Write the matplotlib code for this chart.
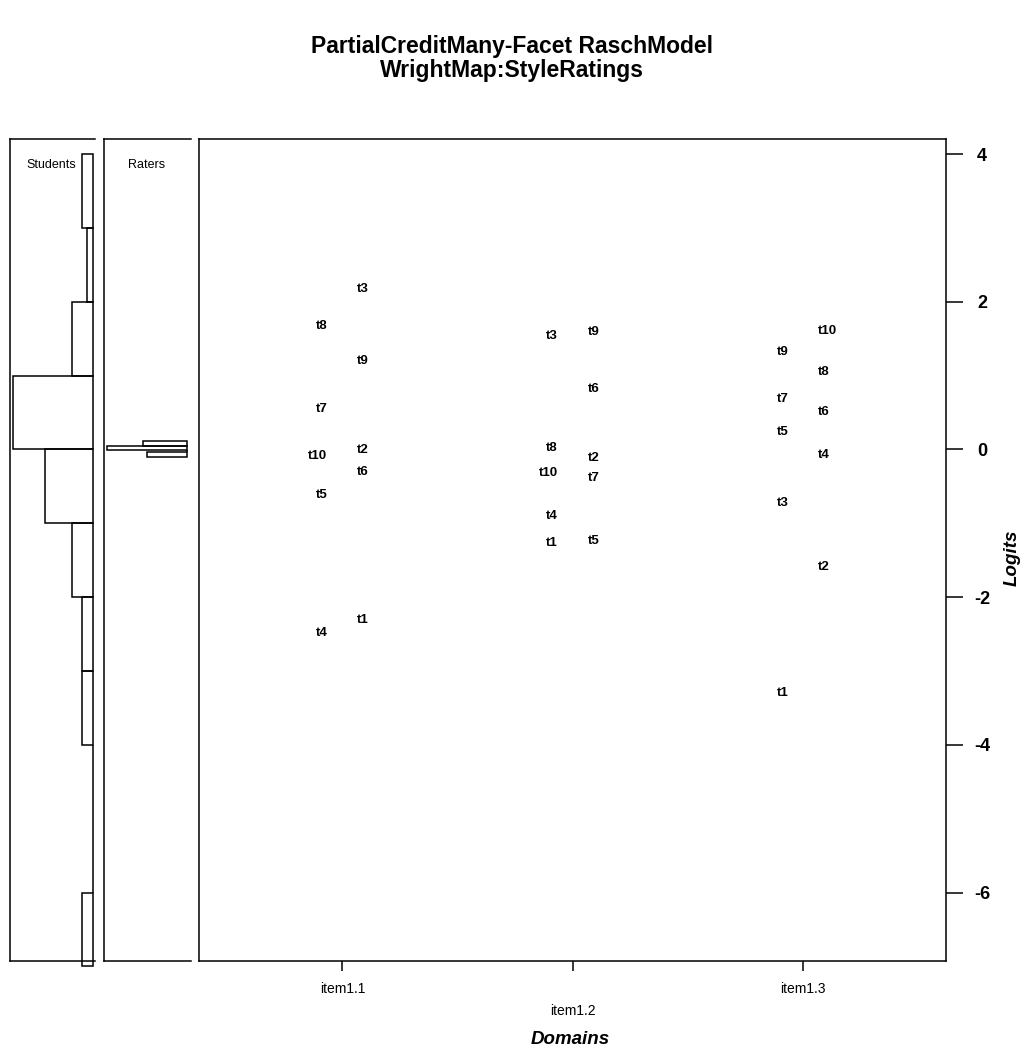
import matplotlib
matplotlib.use("Agg")
import matplotlib.pyplot as plt
import numpy as np

plt.rcParams['font.family'] = ['Liberation Sans', 'DejaVu Sans']
plt.rcParams['axes.unicode_minus'] = False

# ---------------- data ----------------
items = ["item1.1", "item1.2", "item1.3"]
thr_labels = ["t1", "t2", "t3", "t4", "t5", "t6", "t7", "t8", "t9", "t10"]
item11 = [-2.31, -0.01, 2.17, -2.48, -0.62, -0.30, 0.55, 1.67, 1.20, -0.09]
item12 = [-1.27, -0.11, 1.54, -0.90, -1.24, 0.82, -0.38, 0.02, 1.59, -0.32]
item13 = [-3.30, -1.59, -0.73, -0.08, 0.23, 0.51, 0.68, 1.05, 1.32, 1.61]

student_bin_edges = [4, 3, 2, 1, 0, -1, -2, -3, -4, -5, -6, -7]
student_counts = [2, 1, 4, 15, 9, 4, 2, 2, 0, 0, 2]
rater_bin_edges = [0.11, 0.05, -0.005, -0.035, -0.10]
rater_freq = [0.55, 1.0, 0.0, 0.5]
logit_ticks = [4, 2, 0, -2, -4, -6]

# ---------------- layout ----------------
W, H = 1024, 1052
fig = plt.figure(figsize=(W / 100, H / 100), dpi=100)


def rect(x0, x1, ytop, ybot):
    return [x0 / W, 1 - ybot / H, (x1 - x0) / W, (ybot - ytop) / H]


YLIM = (-6.926, 4.204)
LW = 1.1

# Students panel
ax_s = fig.add_axes(rect(10, 95, 139, 961))
se = np.array(student_bin_edges, dtype=float)
ax_s.barh((se[:-1] + se[1:]) / 2, student_counts, height=np.abs(np.diff(se)),
          left=0, fill=False, edgecolor='black', linewidth=LW, clip_on=False)
ax_s.set_ylim(*YLIM)
ax_s.set_xlim(15.63, -0.43)
ax_s.set_xticks([])
ax_s.set_yticks([])
ax_s.spines['right'].set_visible(False)
for sp in ['left', 'top', 'bottom']:
    ax_s.spines[sp].set_linewidth(LW)
ax_s.text(0.48, 0.968, "Students", transform=ax_s.transAxes, ha='center',
          va='center', fontsize=9)

# Raters panel
ax_r = fig.add_axes(rect(104, 191, 139, 961))
re_ = np.array(rater_bin_edges, dtype=float)
ax_r.barh((re_[:-1] + re_[1:]) / 2, rater_freq, height=np.abs(np.diff(re_)),
          left=0, fill=False, edgecolor='black', linewidth=LW)
ax_r.set_ylim(*YLIM)
ax_r.set_xlim(1.0375, -0.05)
ax_r.set_xticks([])
ax_r.set_yticks([])
ax_r.spines['right'].set_visible(False)
for sp in ['left', 'top', 'bottom']:
    ax_r.spines[sp].set_linewidth(LW)
ax_r.text(0.494, 0.968, "Raters", transform=ax_r.transAxes, ha='center',
          va='center', fontsize=9)

# Main panel
ax = fig.add_axes(rect(199, 945.7, 139, 961))
ax.set_ylim(*YLIM)
ax.set_xlim(0.378, 3.618)
for sp in ax.spines.values():
    sp.set_linewidth(LW)

for i, vals in enumerate([item11, item12, item13]):
    xpos = i + 1
    order = np.argsort(vals)[::-1]
    for rank, k in enumerate(order):
        right = (rank % 2 == 0)
        ax.annotate(thr_labels[k], xy=(xpos, vals[k]),
                    xytext=(15 if right else -15, 0), textcoords='offset pixels',
                    ha='left' if right else 'right', va='center',
                    fontsize=9.5, fontweight='bold')

# right logit axis
ax.yaxis.tick_right()
ax.set_yticks(logit_ticks)
ax.set_yticklabels([str(t) for t in logit_ticks])
ax.tick_params(axis='y', which='major', length=12.2, width=LW, pad=13.9,
               labelsize=13)
for lbl in ax.yaxis.get_majorticklabels():
    lbl.set_fontweight('bold')
    lbl.set_horizontalalignment('center')

# bottom item axis
ax.set_xticks([1, 2, 3])
ax.set_xticklabels(items)
ax.tick_params(axis='x', which='major', length=7.2, width=LW, pad=8,
               labelsize=10)
xt = ax.xaxis.get_major_ticks()
xt[1].tick1line.set_markersize(19.4)
xt[1].set_pad(8 + 15.6)

ax.text(1.0 + (1012 - 945.7) / (945.7 - 199), 0.49, "Logits", transform=ax.transAxes,
        rotation=90, ha='center', va='center', fontsize=13.5,
        fontweight='bold', fontstyle='italic')

fig.text(570 / W, 1 - 1040 / H, "Domains", ha='center', va='center',
         fontsize=13.5, fontweight='bold', fontstyle='italic')

fig.text(0.5, 1 - 46 / H, "PartialCreditMany-Facet RaschModel", ha='center',
         va='center', fontsize=16.5, fontweight='bold')
fig.text(0.5, 1 - 71 / H, "WrightMap:StyleRatings", ha='center',
         va='center', fontsize=16.5, fontweight='bold')

fig.savefig("out.png", dpi=100)
